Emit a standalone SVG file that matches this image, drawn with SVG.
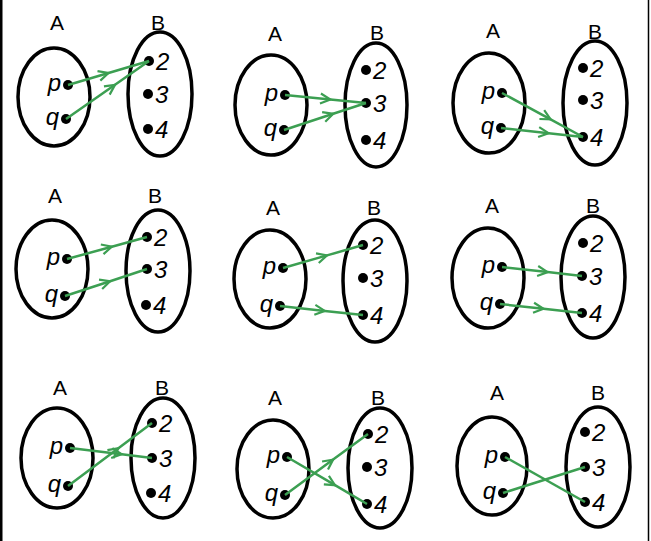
<svg xmlns="http://www.w3.org/2000/svg" width="651" height="541" viewBox="0 0 651 541">
<defs>
<style>
.set{fill:none;stroke:#000;stroke-width:3.5}
.dot{fill:#000}
.lbl{font-family:"Liberation Sans",Arial,sans-serif;font-size:21px;fill:#000;text-anchor:middle}
.el{font-family:"Liberation Sans",Arial,sans-serif;font-size:24px;font-style:italic;fill:#000}
.pq{text-anchor:end}
.arr{fill:none;stroke:#3c9f52;stroke-width:2.5;marker-mid:url(#chev)}
.ln{fill:none;stroke:#3c9f52;stroke-width:2.5}
</style>
<marker id="chev" markerUnits="userSpaceOnUse" markerWidth="24" markerHeight="24" refX="0" refY="0" viewBox="-12 -12 24 24" orient="auto" overflow="visible">
<path d="M-10,-5 L0,0 L-10,5" fill="none" stroke="#3c9f52" stroke-width="2.2"/>
</marker>
</defs>
<rect x="0" y="0" width="651" height="541" fill="#fff"/>
<rect x="0" y="0" width="2.5" height="541" fill="#000"/>
<line x1="648.5" y1="0" x2="648.5" y2="541" stroke="#000" stroke-width="1.5"/>

<g id="panel1">
<text class="lbl" x="57" y="30">A</text><text class="lbl" x="158" y="30">B</text>
<ellipse class="set" cx="54" cy="97" rx="36" ry="49"/><ellipse class="set" cx="160" cy="94" rx="32" ry="62"/>
<circle class="dot" cx="68" cy="85" r="5"/><circle class="dot" cx="66" cy="119" r="5"/>
<circle class="dot" cx="149" cy="61" r="5"/><circle class="dot" cx="148" cy="94" r="5"/><circle class="dot" cx="148" cy="129" r="5"/>
<text class="el pq" x="61" y="91">p</text><text class="el pq" x="59" y="125">q</text>
<text class="el" x="156" y="70">2</text><text class="el" x="155" y="103">3</text><text class="el" x="155" y="138">4</text>
</g>
<g id="panel2">
<text class="lbl" x="275" y="41">A</text><text class="lbl" x="377" y="40">B</text>
<ellipse class="set" cx="271" cy="105" rx="36" ry="50"/><ellipse class="set" cx="376" cy="105" rx="31" ry="62"/>
<circle class="dot" cx="285" cy="95" r="5"/><circle class="dot" cx="284" cy="130" r="5"/>
<circle class="dot" cx="366" cy="70" r="5"/><circle class="dot" cx="366" cy="103" r="5"/><circle class="dot" cx="366" cy="140" r="5"/>
<text class="el pq" x="278" y="101">p</text><text class="el pq" x="277" y="136">q</text>
<text class="el" x="373" y="79">2</text><text class="el" x="373" y="112">3</text><text class="el" x="373" y="149">4</text>
</g>
<g id="panel3">
<text class="lbl" x="493" y="38">A</text><text class="lbl" x="595" y="39">B</text>
<ellipse class="set" cx="489" cy="103" rx="36" ry="50"/><ellipse class="set" cx="595" cy="103" rx="32" ry="62"/>
<circle class="dot" cx="502" cy="93" r="5"/><circle class="dot" cx="501" cy="128" r="5"/>
<circle class="dot" cx="583" cy="68" r="5"/><circle class="dot" cx="583" cy="100" r="5"/><circle class="dot" cx="583" cy="137" r="5"/>
<text class="el pq" x="495" y="99">p</text><text class="el pq" x="494" y="134">q</text>
<text class="el" x="590" y="77">2</text><text class="el" x="590" y="109">3</text><text class="el" x="590" y="146">4</text>
</g>
<g id="panel4">
<text class="lbl" x="55" y="203">A</text><text class="lbl" x="155" y="203">B</text>
<ellipse class="set" cx="52" cy="269" rx="36" ry="49"/><ellipse class="set" cx="158" cy="271" rx="32" ry="61"/>
<circle class="dot" cx="67" cy="259" r="5"/><circle class="dot" cx="65" cy="296" r="5"/>
<circle class="dot" cx="147" cy="237" r="5"/><circle class="dot" cx="147" cy="269" r="5"/><circle class="dot" cx="146" cy="305" r="5"/>
<text class="el pq" x="60" y="265">p</text><text class="el pq" x="58" y="302">q</text>
<text class="el" x="154" y="246">2</text><text class="el" x="154" y="278">3</text><text class="el" x="153" y="314">4</text>
</g>
<g id="panel5">
<text class="lbl" x="273" y="215">A</text><text class="lbl" x="374" y="215">B</text>
<ellipse class="set" cx="270" cy="279" rx="36" ry="49"/><ellipse class="set" cx="375" cy="281" rx="32" ry="61"/>
<circle class="dot" cx="283" cy="268" r="5"/><circle class="dot" cx="280" cy="306" r="5"/>
<circle class="dot" cx="363" cy="245" r="5"/><circle class="dot" cx="363" cy="278" r="5"/><circle class="dot" cx="363" cy="315" r="5"/>
<text class="el pq" x="276" y="274">p</text><text class="el pq" x="273" y="312">q</text>
<text class="el" x="370" y="254">2</text><text class="el" x="370" y="287">3</text><text class="el" x="370" y="324">4</text>
</g>
<g id="panel6">
<text class="lbl" x="492" y="213">A</text><text class="lbl" x="593" y="213">B</text>
<ellipse class="set" cx="488" cy="278" rx="36" ry="50"/><ellipse class="set" cx="593" cy="277" rx="32" ry="61"/>
<circle class="dot" cx="502" cy="267" r="5"/><circle class="dot" cx="500" cy="304" r="5"/>
<circle class="dot" cx="583" cy="243" r="5"/><circle class="dot" cx="582" cy="276" r="5"/><circle class="dot" cx="582" cy="313" r="5"/>
<text class="el pq" x="495" y="273">p</text><text class="el pq" x="493" y="310">q</text>
<text class="el" x="590" y="252">2</text><text class="el" x="589" y="285">3</text><text class="el" x="589" y="322">4</text>
</g>
<g id="panel7">
<text class="lbl" x="60" y="395">A</text><text class="lbl" x="162" y="395">B</text>
<ellipse class="set" cx="57" cy="458" rx="36" ry="50"/><ellipse class="set" cx="163" cy="458" rx="32" ry="60"/>
<circle class="dot" cx="70" cy="448" r="5"/><circle class="dot" cx="68" cy="486" r="5"/>
<circle class="dot" cx="152" cy="423" r="5"/><circle class="dot" cx="152" cy="458" r="5"/><circle class="dot" cx="151" cy="493" r="5"/>
<text class="el pq" x="63" y="454">p</text><text class="el pq" x="61" y="492">q</text>
<text class="el" x="159" y="432">2</text><text class="el" x="159" y="467">3</text><text class="el" x="158" y="502">4</text>
</g>
<g id="panel8">
<text class="lbl" x="275" y="405">A</text><text class="lbl" x="378" y="405">B</text>
<ellipse class="set" cx="273" cy="469" rx="36" ry="49"/><ellipse class="set" cx="380" cy="468" rx="32" ry="60"/>
<circle class="dot" cx="287" cy="457" r="5"/><circle class="dot" cx="285" cy="495" r="5"/>
<circle class="dot" cx="368" cy="434" r="5"/><circle class="dot" cx="367" cy="467" r="5"/><circle class="dot" cx="367" cy="504" r="5"/>
<text class="el pq" x="280" y="463">p</text><text class="el pq" x="278" y="501">q</text>
<text class="el" x="375" y="443">2</text><text class="el" x="374" y="476">3</text><text class="el" x="374" y="513">4</text>
</g>
<g id="panel9">
<text class="lbl" x="497" y="400">A</text><text class="lbl" x="598" y="400">B</text>
<ellipse class="set" cx="492" cy="466" rx="35" ry="49"/><ellipse class="set" cx="598" cy="467" rx="32" ry="60"/>
<circle class="dot" cx="505" cy="457" r="5"/><circle class="dot" cx="503" cy="493" r="5"/>
<circle class="dot" cx="585" cy="432" r="5"/><circle class="dot" cx="585" cy="467" r="5"/><circle class="dot" cx="585" cy="502" r="5"/>
<text class="el pq" x="498" y="463">p</text><text class="el pq" x="496" y="499">q</text>
<text class="el" x="592" y="441">2</text><text class="el" x="592" y="476">3</text><text class="el" x="592" y="511">4</text>
</g>

<g id="connectors">
<path class="arr" d="M68,85 L108.5,73 L149,61"/>
<path class="arr" d="M66,119 L115,84.8 L149,61"/>
<path class="arr" d="M285,95 L330.4,99.5 L366,103"/>
<path class="arr" d="M284,130 L333.2,113.8 L366,103"/>
<path class="arr" d="M502,93 L550.6,119.4 L583,137"/>
<path class="arr" d="M501,128 L548.6,133.2 L583,137"/>
<path class="arr" d="M67,259 L111.8,246.7 L147,237"/>
<path class="arr" d="M65,296 L110.1,281.2 L147,269"/>
<path class="arr" d="M283,268 L327,255.4 L363,245"/>
<path class="arr" d="M280,306 L324.8,310.9 L363,315"/>
<path class="arr" d="M502,267 L547.6,272.1 L582,276"/>
<path class="arr" d="M500,304 L543.5,308.8 L582,313"/>
<path class="arr" d="M70,448 L121.7,454.3 L152,458"/>
<path class="arr" d="M68,486 L118.4,448.2 L152,423"/>
<path class="arr" d="M287,457 L335,485.2 L367,504"/>
<path class="arr" d="M285,495 L333.1,459.6 L368,434"/>
<path class="ln" d="M505,457 L585,502"/>
<path class="ln" d="M503,493 L585,467"/>
</g>
</svg>
